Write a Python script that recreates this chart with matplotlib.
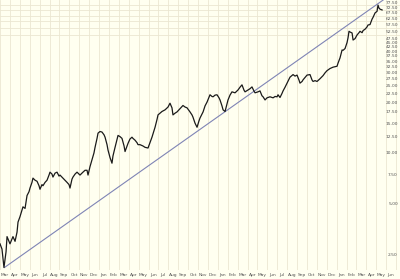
import matplotlib
matplotlib.use("Agg")
import matplotlib.pyplot as plt
from matplotlib.ticker import FixedLocator, NullFormatter, FixedFormatter

# months since start of March 2009
months = [0.00, 0.20, 0.40, 0.61, 0.71, 0.91, 1.01, 1.21, 1.31, 1.52, 1.72, 1.82, 2.02, 2.22, 2.32, 2.53,
          2.73, 2.93, 3.03, 3.23, 3.33, 3.54, 3.74, 3.94, 4.04, 4.24, 4.34, 4.55, 4.75, 4.95, 5.05, 5.25,
          5.35, 5.56, 5.76, 5.96, 6.06, 6.26, 6.36, 6.57, 6.77, 6.97, 7.07, 7.27, 7.37, 7.58, 7.78, 7.98,
          8.08, 8.28, 8.38, 8.59, 8.79, 8.89, 9.09, 9.29, 9.49, 9.60, 9.80, 9.90, 10.10, 10.30, 10.51, 10.61,
          10.81, 10.91, 11.11, 11.31, 11.41, 11.62, 11.82, 11.92, 12.12, 12.32, 12.53, 12.63, 12.83, 12.93,
          13.13, 13.33, 13.43, 13.64, 13.84, 13.94, 14.14, 14.44, 14.65, 14.95, 15.15, 15.35, 15.66, 15.86,
          15.96, 16.16, 16.36, 16.67, 16.97, 17.17, 17.37, 17.47, 17.68, 17.88, 18.18, 18.48, 18.69, 18.89,
          19.19, 19.39, 19.49, 19.70, 19.90, 20.10, 20.20, 20.40, 20.51, 20.71, 20.91, 21.21, 21.41, 21.52,
          21.72, 21.92, 22.12, 22.22, 22.42, 22.53, 22.73, 22.93, 23.03, 23.23, 23.43, 23.74, 24.04, 24.24,
          24.44, 24.65, 24.75, 25.05, 25.25, 25.45, 25.66, 25.76, 26.06, 26.26, 26.46, 26.57, 26.77, 26.97,
          27.27, 27.58, 27.78, 27.98, 28.08, 28.28, 28.48, 28.59, 28.79, 28.99, 29.29, 29.60, 29.80, 30.00,
          30.20, 30.30, 30.51, 30.61, 30.81, 31.01, 31.31, 31.52, 31.62, 31.82, 32.02, 32.32, 32.63, 32.83,
          33.03, 33.33, 33.64, 34.04, 34.14, 34.34, 34.55, 34.65, 34.85, 35.05, 35.15, 35.25, 35.35, 35.56,
          35.66, 35.86, 36.06, 36.26, 36.36, 36.57, 36.67, 36.87, 37.07, 37.17, 37.37, 37.58, 37.68, 37.88,
          38.08, 38.18, 38.28, 38.38, 38.59]

prices = [2.9, 2.7, 2.1, 2.6, 3.2, 3.0, 2.9, 3.1, 3.2, 3.0, 3.4, 3.9, 4.2, 4.6, 4.8, 4.7,
          5.6, 5.9, 6.2, 6.7, 7.1, 6.9, 6.8, 6.4, 6.1, 6.5, 6.4, 6.7, 6.9, 7.4, 7.7, 7.5,
          7.2, 7.6, 7.7, 7.3, 7.4, 7.2, 7.1, 6.9, 6.7, 6.5, 6.2, 7.0, 7.2, 7.5, 7.7, 7.5,
          7.4, 7.6, 7.7, 7.9, 7.9, 7.4, 8.3, 9.1, 10.0, 10.8, 12.2, 13.1, 13.4, 13.3, 12.8, 12.4,
          11.2, 10.4, 9.4, 8.7, 9.6, 10.8, 12.0, 12.7, 12.5, 12.2, 11.0, 10.2, 11.0, 11.4,
          12.1, 12.4, 12.2, 11.9, 11.5, 11.2, 11.2, 11.0, 10.8, 10.7, 11.5, 12.4, 14.2, 15.8,
          16.8, 17.2, 17.6, 18.0, 18.7, 19.7, 18.5, 16.8, 17.2, 17.5, 18.3, 19.1, 18.7, 18.5,
          17.5, 16.8, 16.3, 15.0, 14.2, 15.5, 16.1, 17.0, 17.5, 19.0, 20.0, 22.1, 21.6, 21.5,
          22.0, 22.1, 21.2, 20.6, 19.0, 18.0, 17.6, 19.5, 20.6, 22.0, 23.0, 22.7, 23.6, 24.5,
          25.3, 23.5, 23.0, 23.6, 24.0, 24.6, 23.2, 22.7, 23.0, 23.3, 21.8, 21.5, 20.6, 21.2,
          21.5, 21.2, 21.6, 21.5, 22.1, 21.3, 22.5, 23.3, 24.5, 25.9, 28.1, 29.1, 28.5, 28.9,
          27.0, 25.9, 26.5, 27.1, 28.0, 28.9, 29.1, 27.0, 26.5, 26.8, 26.5, 27.5, 28.7, 29.8,
          30.7, 31.6, 32.2, 32.6, 34.0, 36.5, 40.7, 40.5, 41.5, 45.0, 48.0, 52.5, 52.0, 51.3,
          46.6, 47.5, 49.9, 51.5, 52.5, 51.5, 53.0, 54.0, 55.7, 57.2, 57.5, 62.0, 63.5, 67.4,
          68.9, 75.0, 72.0, 71.0, 70.2]

trend_x = [0.45, 38.7]
trend_y = [2.1, 80.4]

month_labels = ["Mar", "Apr", "May", "Jun", "Jul", "Aug", "Sep", "Oct", "Nov", "Dec", "Jan", "Feb",
                "Mar", "Apr", "May", "Jun", "Jul", "Aug", "Sep", "Oct", "Nov", "Dec", "Jan", "Feb",
                "Mar", "Apr", "May", "Jun", "Jul", "Aug", "Sep", "Oct", "Nov", "Dec", "Jan", "Feb",
                "Mar", "Apr", "May", "Jun"]

grid_levels = [2.5 * k for k in range(1, 32)]
label_levels = [2.5, 5.0, 7.5, 10.0, 12.5, 15.0, 17.5, 20.0, 22.5, 25.0, 27.5, 30.0, 32.5, 35.0,
                37.5, 40.0, 42.5, 45.0, 47.5, 52.5, 57.5, 62.5, 67.5, 72.5, 77.5]

bg = "#FFFFF0"
grid_c = "#EBE7D2"

fig = plt.figure(figsize=(4.0, 2.79), dpi=100, facecolor=bg)
ax = fig.add_axes([0, 9 / 279, 1, 270 / 279])
ax.set_facecolor(bg)
ax.set_yscale("log")
ax.set_xlim(0, 40.4)
ax.set_ylim(2.03, 80.4)

for s in ax.spines.values():
    s.set_visible(False)

# grid
ax.yaxis.set_major_locator(FixedLocator(label_levels))
ax.yaxis.set_major_formatter(FixedFormatter(["%.2f" % v for v in label_levels]))
ax.yaxis.set_minor_locator(FixedLocator(grid_levels))
ax.yaxis.set_minor_formatter(NullFormatter())
ax.xaxis.set_major_locator(FixedLocator([i + 0.5 for i in range(len(month_labels))]))
ax.xaxis.set_major_formatter(FixedFormatter(month_labels))
ax.xaxis.set_minor_locator(FixedLocator(list(range(0, 41))))
ax.grid(True, which="minor", color=grid_c, lw=0.6)
ax.grid(False, which="major")
ax.set_axisbelow(True)

ax.tick_params(axis="x", which="both", length=0, labelsize=3.2, colors="#555555", pad=2)
ax.tick_params(axis="y", which="both", length=0, labelsize=3.2, colors="#555555",
               left=False, right=False, labelleft=False, labelright=True, pad=-1.5)
for lbl in ax.get_yticklabels():
    lbl.set_horizontalalignment("right")

ax.plot(trend_x, trend_y, color="#7F84B5", lw=0.8, zorder=2)
ax.plot(months, prices, color="#1A1A1A", lw=0.9, zorder=3)

fig.savefig("out.png", dpi=100, facecolor=bg)
